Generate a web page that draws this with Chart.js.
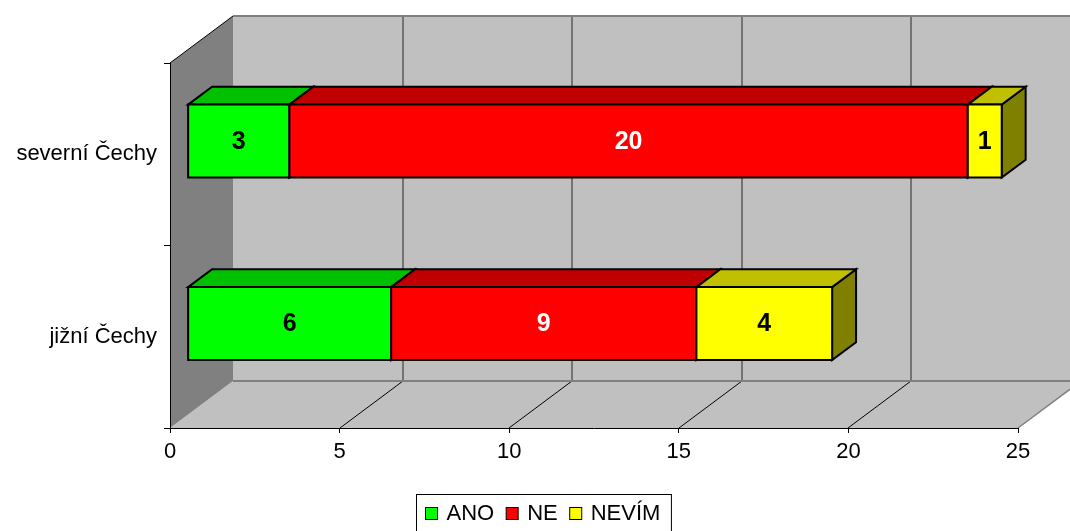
<!DOCTYPE html>
<html>
<head>
<meta charset="utf-8">
<script src="https://cdn.jsdelivr.net/npm/chart.js@4/dist/chart.umd.min.js"></script>
<style>
  html, body { margin: 0; padding: 0; background: #ffffff; }
  #wrap { width: 1070px; height: 531px; position: relative; }
</style>
</head>
<body>
<div id="wrap"><canvas id="c"></canvas></div>
<script>
// Survey answers by region
const categories = ['severní Čechy', 'jižní Čechy'];
const seriesNames = ['ANO', 'NE', 'NEVÍM'];
const ano = [3, 6];
const ne = [20, 9];
const nevim = [1, 4];
const xTicks = [0, 5, 10, 15, 20, 25];

// Face colours for each series: front, top, right side, value label
const frontColors = ['#00FF00', '#FF0000', '#FFFF00'];
const topColors = ['#00C000', '#C00000', '#C0C000'];
const sideColors = ['#008000', '#800000', '#808000'];
const labelColors = ['#000000', '#FFFFFF', '#000000'];

const FONT = "'Liberation Sans', Arial, sans-serif";
Chart.defaults.font.family = FONT;
Chart.defaults.color = '#000000';

// Oblique projection of the plot box: back plane is shifted by (dx, dy)
const DEPTH = { dx: 63, dy: -47 };
const BAR_FRONT = 0.28;   // bars start at this fraction of the depth
const BAR_BACK = 0.66;    // ... and end here

function poly(ctx, pts, fill, stroke, lw) {
  ctx.beginPath();
  ctx.moveTo(pts[0][0], pts[0][1]);
  for (let i = 1; i < pts.length; i++) ctx.lineTo(pts[i][0], pts[i][1]);
  ctx.closePath();
  if (fill) { ctx.fillStyle = fill; ctx.fill(); }
  if (stroke) { ctx.strokeStyle = stroke; ctx.lineWidth = lw || 1; ctx.stroke(); }
}
function seg(ctx, x1, y1, x2, y2, color, lw) {
  ctx.beginPath();
  ctx.moveTo(x1, y1);
  ctx.lineTo(x2, y2);
  ctx.strokeStyle = color;
  ctx.lineWidth = lw;
  ctx.stroke();
}

const scene3d = {
  id: 'scene3d',
  // walls, floor and gridlines behind everything
  beforeDraw(chart) {
    const ctx = chart.ctx, a = chart.chartArea, xs = chart.scales.x;
    const { dx, dy } = DEPTH;
    ctx.save();
    poly(ctx, [[a.left + dx, a.top + dy], [a.right + dx, a.top + dy],
               [a.right + dx, a.bottom + dy], [a.left + dx, a.bottom + dy]], '#C0C0C0');
    poly(ctx, [[a.left, a.bottom], [a.left + dx, a.bottom + dy],
               [a.right + dx, a.bottom + dy], [a.right, a.bottom]], '#C0C0C0');
    poly(ctx, [[a.left, a.top], [a.left + dx, a.top + dy],
               [a.left + dx, a.bottom + dy], [a.left, a.bottom]], '#808080');

    xs.ticks.forEach(t => {
      if (t.value <= xs.min || t.value >= xs.max) return;
      const px = Math.round(xs.getPixelForValue(t.value));
      seg(ctx, px + dx, a.top + dy, px + dx, a.bottom + dy, '#5A5A5A', 1.5);
      seg(ctx, px, a.bottom, px + dx, a.bottom + dy, '#000000', 1);
    });

    seg(ctx, a.left + dx, a.top + dy, a.right + dx, a.top + dy, '#808080', 2);
    seg(ctx, a.left + dx, a.bottom + dy, a.right + dx, a.bottom + dy, '#808080', 2);
    seg(ctx, a.right, a.bottom, a.right + dx, a.bottom + dy, '#808080', 1.5);
    seg(ctx, a.left, a.top, a.left + dx, a.top + dy, '#000000', 1);
    ctx.restore();
  },
  // stacked bars as boxes, then their value labels
  beforeDatasetsDraw(chart) {
    const ctx = chart.ctx;
    const { dx, dy } = DEPTH;
    const ox = dx * BAR_FRONT, oy = dy * BAR_FRONT;
    const bx = dx * (BAR_BACK - BAR_FRONT), by = dy * (BAR_BACK - BAR_FRONT);
    ctx.save();
    ctx.lineJoin = 'miter';
    const labels = [];
    for (let i = 0; i < categories.length; i++) {
      chart.data.datasets.forEach((ds, j) => {
        const el = chart.getDatasetMeta(j).data[i];
        const p = el.getProps(['x', 'y', 'base', 'height'], true);
        const l = Math.min(p.x, p.base) + ox, r = Math.max(p.x, p.base) + ox;
        const t = p.y - p.height / 2 + oy, b = p.y + p.height / 2 + oy;
        poly(ctx, [[r, t], [r + bx, t + by], [r + bx, b + by], [r, b]], sideColors[j], '#000000', 2);
        poly(ctx, [[l, t], [l + bx, t + by], [r + bx, t + by], [r, t]], topColors[j], '#000000', 2);
        poly(ctx, [[l, t], [r, t], [r, b], [l, b]], frontColors[j], '#000000', 2);
        labels.push({ text: String(ds.data[i]), x: (l + r) / 2, y: (t + b) / 2, color: labelColors[j] });
      });
    }
    ctx.font = 'bold 25px ' + FONT;
    ctx.textAlign = 'center';
    ctx.textBaseline = 'middle';
    labels.forEach(lb => { ctx.fillStyle = lb.color; ctx.fillText(lb.text, lb.x, lb.y + 1); });
    ctx.restore();
    return false;
  },
  // boxed legend under the plot
  afterDraw(chart) {
    const ctx = chart.ctx;
    ctx.save();
    ctx.font = '22px ' + FONT;
    const box = 12, gapText = 9, gapItem = 12;
    const widths = seriesNames.map(n => ctx.measureText(n).width);
    const total = widths.reduce((s, w) => s + box + gapText + w, 0) + gapItem * (seriesNames.length - 1);
    const cx = 542.5;
    let x = Math.round(cx - total / 2) + 0.5;
    const frameL = x - 9, frameR = x + total + 11;
    ctx.strokeStyle = '#000000';
    ctx.lineWidth = 1;
    ctx.strokeRect(frameL, 494.5, frameR - frameL, 45);
    ctx.textAlign = 'left';
    ctx.textBaseline = 'alphabetic';
    seriesNames.forEach((n, j) => {
      ctx.fillStyle = frontColors[j];
      ctx.fillRect(x, 507.5, box, box);
      ctx.strokeRect(x, 507.5, box, box);
      ctx.fillStyle = '#000000';
      ctx.fillText(n, x + box + gapText, 520);
      x += box + gapText + widths[j] + gapItem;
    });
    ctx.restore();
  }
};

new Chart(document.getElementById('c'), {
  type: 'bar',
  data: {
    labels: categories,
    datasets: [
      { label: seriesNames[0], data: ano, backgroundColor: frontColors[0] },
      { label: seriesNames[1], data: ne, backgroundColor: frontColors[1] },
      { label: seriesNames[2], data: nevim, backgroundColor: frontColors[2] }
    ]
  },
  options: {
    indexAxis: 'y',
    responsive: true,
    maintainAspectRatio: false,
    animation: false,
    events: [],
    categoryPercentage: 1.0,
    barPercentage: 0.4,
    layout: { padding: { top: 63, right: 52, left: 0, bottom: 0 } },
    plugins: { legend: { display: false }, tooltip: { enabled: false } },
    scales: {
      x: {
        stacked: true,
        min: xTicks[0],
        max: xTicks[xTicks.length - 1],
        ticks: { stepSize: xTicks[1] - xTicks[0], font: { size: 22 }, color: '#000000', padding: 6, maxRotation: 0 },
        grid: { drawOnChartArea: false, color: '#000000', tickLength: 5 },
        border: { color: '#000000', width: 1 },
        afterFit(s) { s.height = 103; }
      },
      y: {
        stacked: true,
        ticks: { font: { size: 22 }, color: '#000000', padding: 7 },
        grid: { drawOnChartArea: false, color: '#000000', tickLength: 6, offset: true },
        border: { color: '#000000', width: 1 },
        afterFit(s) { s.width = 170; }
      }
    }
  },
  plugins: [scene3d]
});
</script>
</body>
</html>
